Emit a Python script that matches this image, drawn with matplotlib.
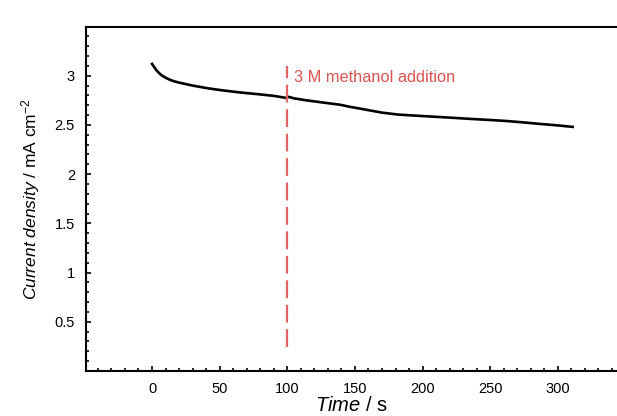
import numpy as np
import matplotlib
matplotlib.use("Agg")
import matplotlib.pyplot as plt
from matplotlib.ticker import MultipleLocator

plt.rcParams['font.family'] = ['Liberation Sans', 'DejaVu Sans']
plt.rcParams['mathtext.fontset'] = 'custom'
plt.rcParams['mathtext.rm'] = 'Liberation Sans'
plt.rcParams['mathtext.it'] = 'Liberation Sans:italic'

# chronoamperometry curve
time_s = [0, 1, 2, 3, 5, 7, 10, 13, 16, 20, 25, 30, 40, 50, 65, 80, 90, 99, 100, 101,
          105, 114, 125, 139, 146, 152, 158, 164, 170, 176, 182, 188, 200, 213, 225,
          237, 250, 262, 275, 287, 300, 311]
current = [3.12, 3.10, 3.08, 3.06, 3.03, 3.005, 2.98, 2.96, 2.945, 2.93, 2.915, 2.90,
           2.875, 2.855, 2.83, 2.81, 2.795, 2.775, 2.78, 2.785, 2.77, 2.75, 2.73,
           2.705, 2.685, 2.67, 2.655, 2.64, 2.625, 2.615, 2.605, 2.60, 2.59, 2.58,
           2.57, 2.56, 2.55, 2.54, 2.525, 2.51, 2.495, 2.48]

addition_t = 100
addition_label = "3 M methanol addition"
xticks = [0, 50, 100, 150, 200, 250, 300]
yticks = [0.5, 1, 1.5, 2, 2.5, 3]

fig = plt.figure(figsize=(6.17, 4.16), dpi=100)
ax = fig.add_axes([86/617, 45/416, 531/617, 344.5/416])

ax.plot(time_s, current, color='black', lw=1.9, solid_joinstyle='round')
ax.plot([addition_t, addition_t], [0.24, 3.1], color='#e06464', lw=1.6,
        dashes=(8, 3))
ax.text(addition_t + 5, 2.98, addition_label, color='#d9534f', fontsize=11.8,
        va='center', ha='left')

ax.set_xlim(-48.8, 343.7)
ax.set_ylim(0, 3.5)
ax.set_xticks(xticks)
ax.set_yticks(yticks)
ax.set_yticklabels(['0.5', '1', '1.5', '2', '2.5', '3'])
ax.xaxis.set_minor_locator(MultipleLocator(10))
ax.yaxis.set_minor_locator(MultipleLocator(0.1))
ax.tick_params(which='both', direction='in', labelsize=10.5, top=False, right=False)
ax.tick_params(which='major', length=3.5, width=1.2, pad=8)
ax.tick_params(which='minor', length=2.5, width=1.2)
ax.spines['right'].set_visible(False)
for s in ['left', 'bottom', 'top']:
    ax.spines[s].set_linewidth(1.5)

ax.set_xlabel(r"$\it{Time}$ / s", fontsize=14.5, labelpad=0)
ax.set_ylabel(r"$\it{Current\ density}$ / mA cm$^{-2}$", fontsize=12.5, labelpad=9)

fig.savefig("out.png", dpi=100)
